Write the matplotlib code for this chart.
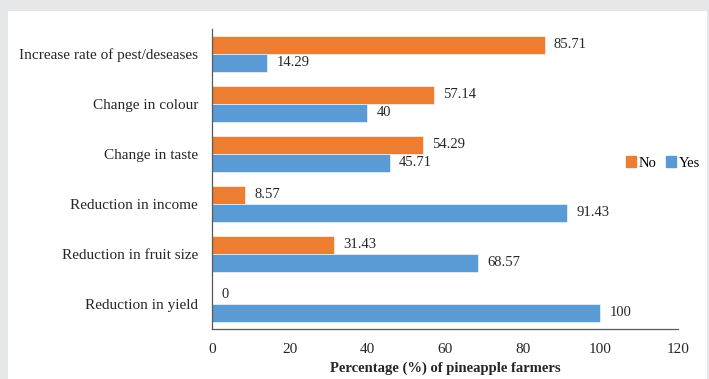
import matplotlib
matplotlib.use("Agg")
import matplotlib.pyplot as plt
from matplotlib.patches import Rectangle, Patch

categories = ["Reduction in yield", "Reduction in fruit size", "Reduction in income",
              "Change in taste", "Change in colour", "Increase rate of pest/deseases"]
no_values = [0, 31.43, 8.57, 54.29, 57.14, 85.71]
yes_values = [100, 68.57, 91.43, 45.71, 40, 14.29]
no_labels = ["0", "31.43", "8.57", "54.29", "57.14", "85.71"]
yes_labels = ["100", "68.57", "91.43", "45.71", "40", "14.29"]
xticks = [0, 20, 40, 60, 80, 100, 120]

ORANGE = "#ED7D31"
BLUE = "#5B9BD5"
TXT = "#262626"

plt.rcParams["font.family"] = ["Liberation Serif", "DejaVu Serif"]

W, H = 709, 379
fig = plt.figure(figsize=(W / 100, H / 100), dpi=100)
fig.patch.set_facecolor("#E6E7E8")
# white panel inside the grey frame
fig.add_artist(Rectangle((8 / W, 0), (707 - 8) / W, (H - 11) / H,
                         transform=fig.transFigure, facecolor="white",
                         edgecolor="none", zorder=0))

left, right = 212 / W, 678 / W
top, bottom = 1 - 29 / H, 1 - 329 / H
ax = fig.add_axes([left, bottom, right - left, top - bottom])
ax.set_facecolor("none")

n = len(categories)
y = list(range(n))
h = 0.36
ax.barh([v + h / 2 for v in y], no_values, height=h, color=ORANGE,
        edgecolor="white", linewidth=0.4, label="No")
ax.barh([v - h / 2 for v in y], yes_values, height=h, color=BLUE,
        edgecolor="white", linewidth=0.4, label="Yes")

for i in y:
    ax.annotate(no_labels[i], (no_values[i], i + h / 2), xytext=(6.5, 0),
                textcoords="offset points", va="center", ha="left",
                fontsize=10.5, color=TXT)
    ax.annotate(yes_labels[i], (yes_values[i], i - h / 2), xytext=(6.5, 0),
                textcoords="offset points", va="center", ha="left",
                fontsize=10.5, color=TXT)

ax.set_xlim(0, 120)
ax.set_ylim(-0.5, n - 0.5)
ax.set_xticks(xticks)
ax.set_xticklabels([str(t) for t in xticks], fontsize=11, color=TXT)
ax.set_yticks(y)
ax.set_yticklabels(categories, fontsize=11, color=TXT)
ax.tick_params(length=0, pad=10)
ax.tick_params(axis="y", pad=10)
for s in ["top", "right"]:
    ax.spines[s].set_visible(False)
for s in ["left", "bottom"]:
    ax.spines[s].set_color("#595959")
    ax.spines[s].set_linewidth(0.9)

ax.set_xlabel("Percentage (%) of pineapple farmers", fontsize=10.5,
              fontweight="bold", color=TXT, labelpad=4)

handles = [Patch(color=ORANGE, label="No"), Patch(color=BLUE, label="Yes")]
fig.legend(handles=handles, loc="center", bbox_to_anchor=(663 / W, 1 - 163 / H),
           ncol=2, frameon=False, fontsize=10.5, handlelength=0.7,
           handleheight=0.7, handletextpad=0.2, columnspacing=0.6)

fig.savefig("out.png", dpi=100, facecolor=fig.get_facecolor())
